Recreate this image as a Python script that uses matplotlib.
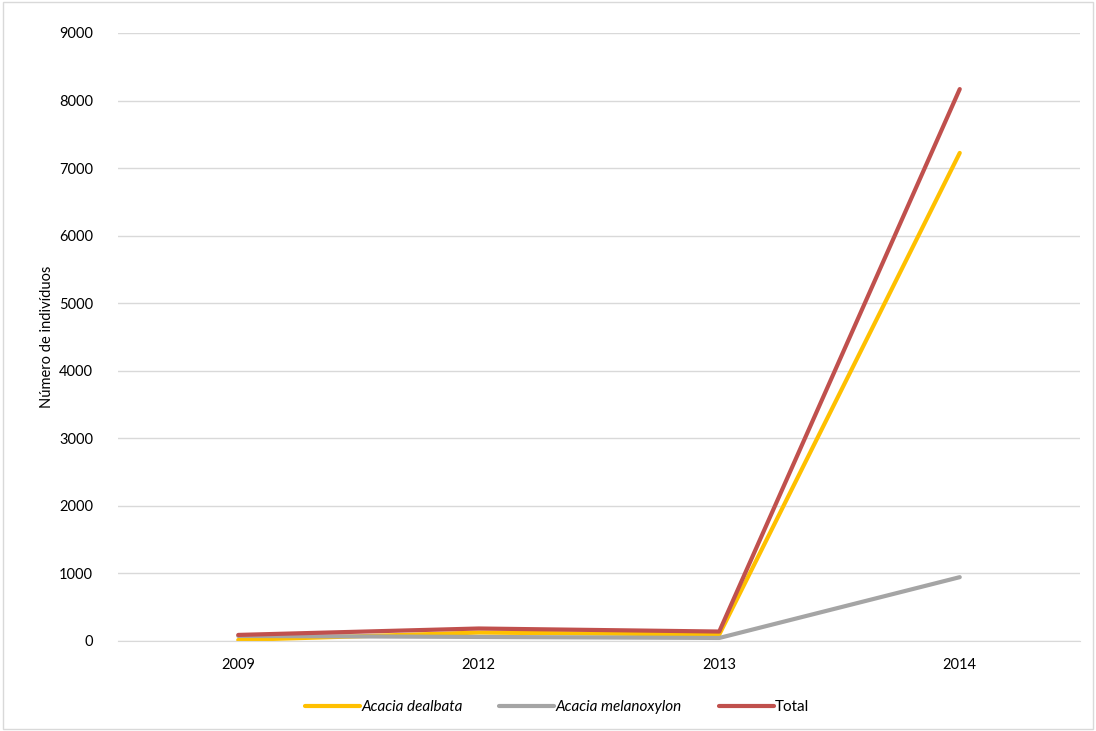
import numpy as np
import matplotlib.pyplot as plt
from matplotlib.patches import Rectangle

years = ['2009', '2012', '2013', '2014']
dealbata = [15, 125, 95, 7225]
melanoxylon = [75, 60, 45, 945]
total = [90, 185, 140, 8170]

plt.rcParams['font.family'] = ['Lato', 'DejaVu Sans']

def main():
    fig = plt.figure(figsize=(10.96, 7.31), dpi=100)
    ax = fig.add_axes([118 / 1096, 1 - 641 / 731, (1080 - 118) / 1096, (641 - 33) / 731])
    x = np.arange(len(years))

    ax.plot(x, dealbata, color='#FFC000', lw=3, solid_capstyle='round', label='Acacia dealbata')
    ax.plot(x, melanoxylon, color='#A5A5A5', lw=3, solid_capstyle='round', label='Acacia melanoxylon')
    ax.plot(x, total, color='#C0504D', lw=3, solid_capstyle='round', label='Total')

    ax.set_xlim(-0.5, 3.5)
    ax.set_ylim(0, 9000)
    ax.set_yticks(np.arange(0, 9001, 1000))
    ax.set_xticks(x)
    ax.set_xticklabels(years)
    ax.grid(axis='y', color='#D9D9D9', lw=1)
    ax.set_axisbelow(True)
    for s in ['top', 'right', 'left']:
        ax.spines[s].set_visible(False)
    ax.spines['bottom'].set_color('#D9D9D9')
    ax.tick_params(axis='both', length=0, labelsize=10.5, colors='#000000')
    ax.tick_params(axis='y', pad=18)
    ax.tick_params(axis='x', pad=12)
    ax.set_ylabel('Número de indivíduos', fontsize=10.5)
    ax.yaxis.set_label_coords(-0.067, 0.5)

    leg = ax.legend(loc='center', ncol=3, frameon=False, fontsize=11,
                    handlelength=3.6, handletextpad=0.1, columnspacing=2.4)
    leg.set_bbox_to_anchor((557 / 1096, 1 - 707 / 731), transform=fig.transFigure)
    for t in leg.get_texts()[:2]:
        t.set_style('italic')

    fig.patches.append(Rectangle((0.003, 0.003), 0.994, 0.994, transform=fig.transFigure,
                                 fill=False, edgecolor='#D9D9D9', lw=1))
    fig.savefig('out.png', dpi=100)

if __name__ == '__main__':
    main()
